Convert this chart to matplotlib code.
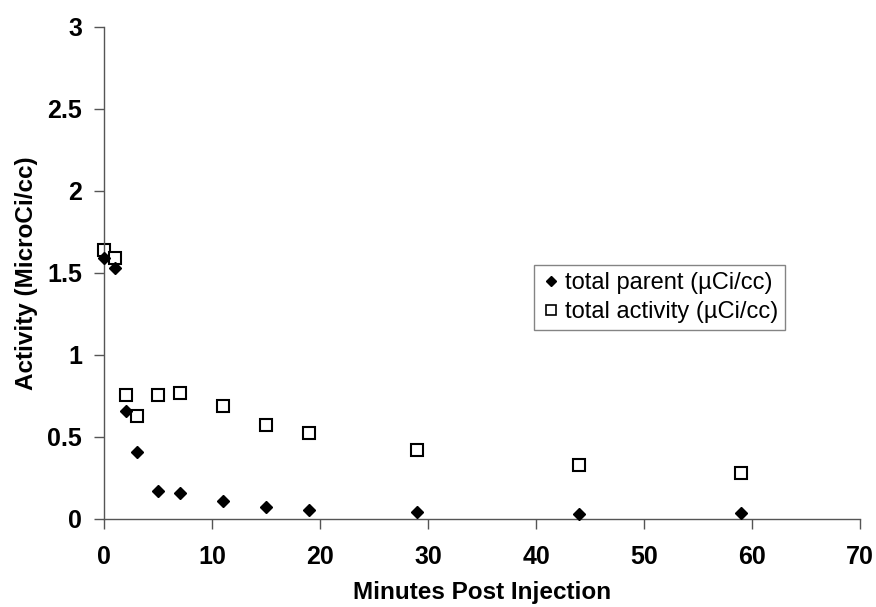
import matplotlib
matplotlib.use('Agg')
import matplotlib.pyplot as plt
from matplotlib.ticker import FuncFormatter

minutes = [0, 1, 2, 3, 5, 7, 11, 15, 19, 29, 44, 59]
total_parent = [1.59, 1.53, 0.66, 0.41, 0.17, 0.16, 0.11, 0.075, 0.055, 0.045, 0.03, 0.038]
total_activity = [1.64, 1.59, 0.755, 0.63, 0.755, 0.77, 0.69, 0.57, 0.525, 0.42, 0.33, 0.28]

x_ticks = [0, 10, 20, 30, 40, 50, 60, 70]
y_ticks = [0, 0.5, 1, 1.5, 2, 2.5, 3]

plt.rcParams['font.family'] = ['Liberation Sans', 'DejaVu Sans']

fig = plt.figure(figsize=(8.76, 6.07), dpi=100)
ax = fig.add_axes([0.119, 0.145, 0.863, 0.811])

ax.plot(minutes, total_parent, linestyle='none', marker='D', markersize=6,
        color='black', label='total parent (µCi/cc)', clip_on=False, zorder=3)
ax.plot(minutes, total_activity, linestyle='none', marker='s', markersize=9,
        markerfacecolor='white', markeredgecolor='black', markeredgewidth=1.5,
        label='total activity (µCi/cc)', clip_on=False, zorder=2)

ax.set_xlim(0, 70)
ax.set_ylim(0, 3)
ax.set_xticks(x_ticks)
ax.set_yticks(y_ticks)
ax.yaxis.set_major_formatter(FuncFormatter(lambda v, p: f'{v:g}'))

for side in ['top', 'right']:
    ax.spines[side].set_visible(False)
for side in ['left', 'bottom']:
    ax.spines[side].set_color('#555555')
    ax.spines[side].set_linewidth(1.0)

ax.tick_params(axis='both', direction='out', length=7, width=1, color='#555555',
               labelsize=18)
ax.tick_params(axis='x', pad=12)
ax.tick_params(axis='y', pad=9)
for lbl in ax.get_xticklabels() + ax.get_yticklabels():
    lbl.set_fontweight('bold')

ax.set_xlabel('Minutes Post Injection', fontsize=17.5, fontweight='bold', va='center')
ax.xaxis.set_label_coords(0.5, -0.15)
ax.set_ylabel('Activity (MicroCi/cc)', fontsize=17.5, fontweight='bold', va='center')
ax.yaxis.set_label_coords(-0.103, 0.5)

leg = ax.legend(loc='upper left', bbox_to_anchor=(0.569, 0.516), fontsize=17,
                frameon=True, fancybox=False, handletextpad=0.2,
                handlelength=0.8, borderpad=0.3, labelspacing=0.3,
                borderaxespad=0)
leg.get_frame().set_edgecolor('#666666')
leg.get_frame().set_linewidth(1.0)
leg.legend_handles[0].set_markersize(5)
leg.legend_handles[1].set_markersize(7)
leg.legend_handles[1].set_markeredgewidth(1.2)

fig.savefig('out.png', dpi=100)
